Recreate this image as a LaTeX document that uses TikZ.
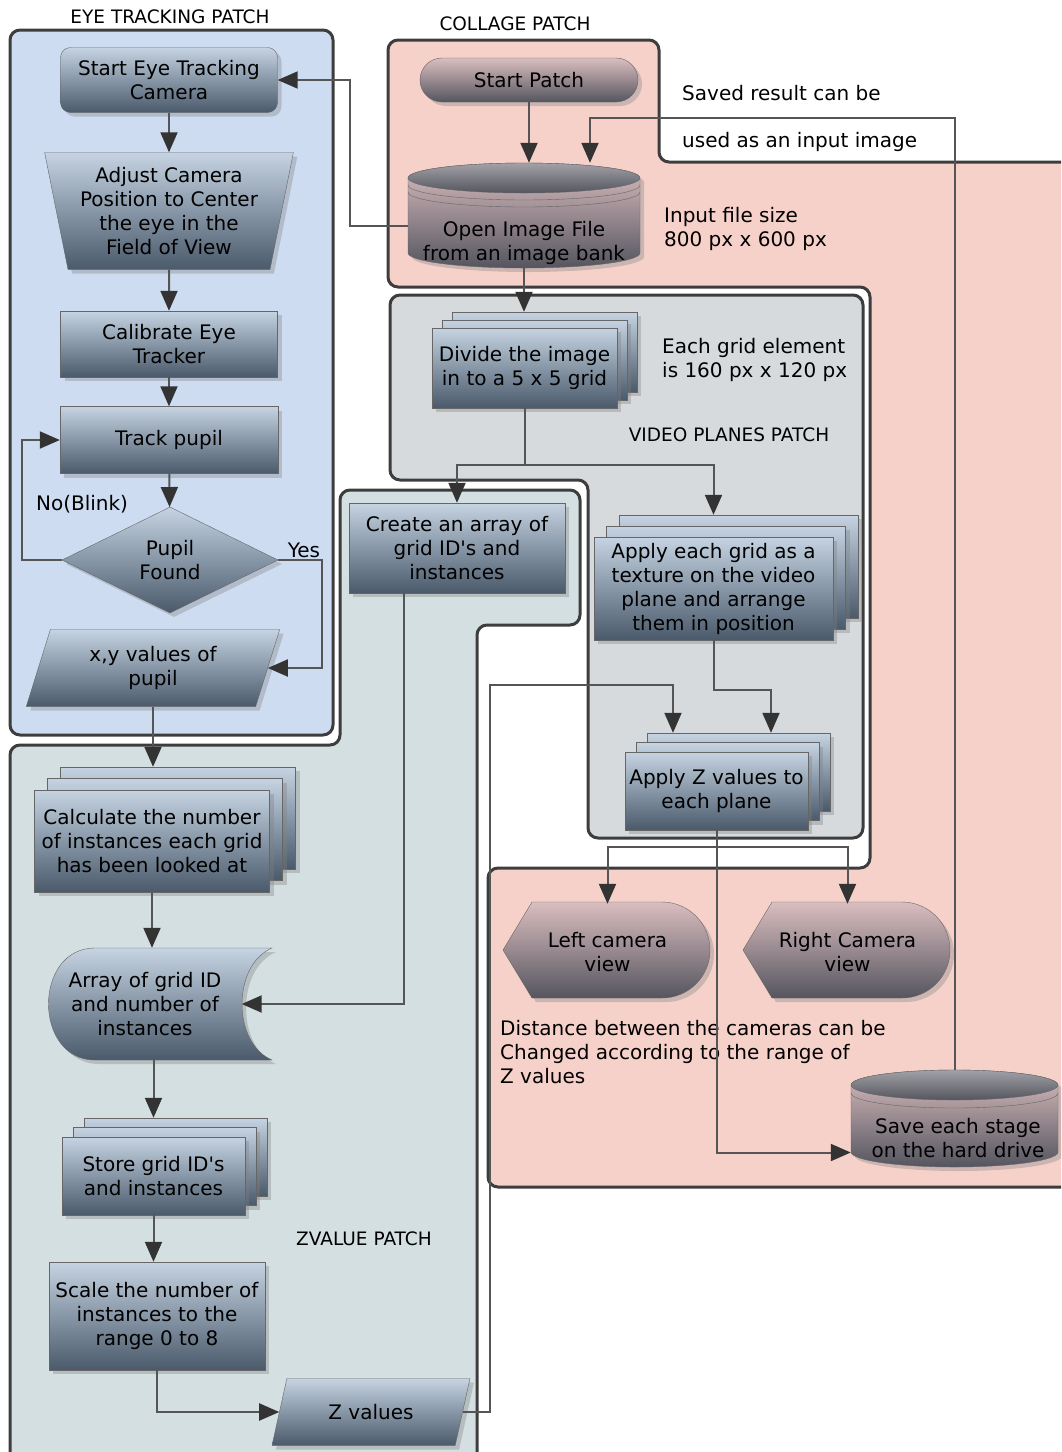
\documentclass[tikz,border=0pt]{standalone}
\usepackage{fontspec}
\setmainfont{DejaVu Sans}
\usetikzlibrary{shapes.geometric,shadows,arrows.meta}

\definecolor{eyefill}{HTML}{CEDCF1}
\definecolor{collfill}{HTML}{F6D1CA}
\definecolor{vidfill}{HTML}{D6DADD}
\definecolor{zfill}{HTML}{D3DFE1}
\definecolor{patchline}{HTML}{3D3D3D}
\definecolor{conline}{HTML}{555555}
\definecolor{tipcol}{HTML}{333333}
\definecolor{nodetop}{HTML}{C5D3E2}
\definecolor{nodebot}{HTML}{4A5A6B}
\definecolor{pinktop}{HTML}{DABEBF}
\definecolor{pinkbot}{HTML}{55555F}

\newcommand{\boxfont}{\fontsize{20pt}{24pt}\selectfont}
\newcommand{\patchfont}{\fontsize{18.5pt}{21pt}\selectfont}

\tikzset{
  every picture/.append style={x=1pt, y=-1pt},
  shade box/.style={draw=black!60,
    drop shadow={shadow xshift=4pt, shadow yshift=-4pt, opacity=.35}},
  box/.style={shade box, top color=nodetop, bottom color=nodebot,
    align=center, font=\boxfont, inner sep=2pt},
  pinkbox/.style={box, top color=pinktop, bottom color=pinkbot},
  hold/.style={inner sep=0pt, align=center, font=\boxfont},
  patch/.style={draw=patchline, line width=3pt, rounded corners=10pt},
  con/.style={draw=conline, line width=2pt},
  arr/.style={con, -{Triangle[length=20pt, width=17pt, color=tipcol]}},
  note/.style={font=\boxfont, align=left, inner sep=0pt},
  patch label/.style={font=\patchfont, inner sep=0pt}
}

\begin{document}
\begin{tikzpicture}
  \useasboundingbox (0,0) rectangle (1061,1452);
  \clip (0,0) rectangle (1061,1452);

  % patches
  \draw[patch, fill=eyefill] (10,30) rectangle (333,735);
  \draw[patch, fill=collfill] (388,40) -- (659,40) -- (659,162) -- (1075,162)
    -- (1075,1187) -- (488,1187) -- (488,868) -- (870,868) -- (870,287)
    -- (388,287) -- cycle;
  \draw[patch, fill=vidfill] (390,295) -- (863,295) -- (863,838) -- (588,838)
    -- (588,480) -- (390,480) -- cycle;
  \draw[patch, fill=zfill] (10,1470) -- (10,745) -- (340,745) -- (340,490)
    -- (580,490) -- (580,625) -- (477,625) -- (477,1470) -- cycle;

  \node[patch label] (lbl-eye) at (170,17) {EYE TRACKING PATCH};
  \node[patch label] (lbl-coll) at (515,24) {COLLAGE PATCH};
  \node[patch label] (lbl-vid) at (729,435) {VIDEO PLANES PATCH};
  \node[patch label] (lbl-z) at (364,1239) {ZVALUE PATCH};

  % eye tracking
  \node[box, rounded corners=10pt, minimum width=217pt, minimum height=65pt] (starteye) at (169,80) {Start Eye Tracking\\Camera};
  \node[box, trapezium, shape border rotate=180, trapezium left angle=77, trapezium right angle=77,
    trapezium stretches=true, minimum width=249pt, minimum height=117pt] (adjust) at (169,211) {Adjust Camera\\Position to Center\\the eye in the\\Field of View};
  \node[box, minimum width=217pt, minimum height=66pt] (calib) at (169,344) {Calibrate Eye\\Tracker};
  \node[box, minimum width=218pt, minimum height=67pt] (track) at (169,440) {Track pupil};
  \node[box, diamond, aspect=2, inner sep=0pt, minimum width=216pt, minimum height=106pt] (pupil) at (170,560) {Pupil\\Found};
  \node[box, trapezium, trapezium left angle=72, trapezium right angle=108, trapezium stretches=true,
    minimum width=254pt, minimum height=77pt] (xy) at (153,668) {x,y values of\\pupil};
  \node[note] (lbl-no) at (82,504) {No(Blink)};
  \node[note] (lbl-yes) at (304,550) {Yes};

  % zvalue
  \node[box, minimum width=235pt, minimum height=102pt] (calc-2) at (178,818) {};
  \node[box, minimum width=235pt, minimum height=102pt] (calc-1) at (165,829.5) {};
  \node[box, minimum width=235pt, minimum height=102pt] (calc) at (152,841) {Calculate the number\\of instances each grid\\has been looked at};
  \path[box] (95,948) -- (272,948) .. controls (232,965) and (232,1043) .. (272,1060)
    -- (95,1060) .. controls (33,1060) and (33,948) .. (95,948) -- cycle;
  \node[hold, minimum width=193pt, minimum height=112pt] (array) at (145,1004) {Array of grid ID\\and number of\\instances};
  \node[box, minimum width=183pt, minimum height=78pt] (store-2) at (175.5,1157) {};
  \node[box, minimum width=183pt, minimum height=78pt] (store-1) at (164.5,1166.5) {};
  \node[box, minimum width=183pt, minimum height=78pt] (store) at (153.5,1176) {Store grid ID\textquotesingle s\\and instances};
  \node[box, minimum width=216pt, minimum height=108pt] (scale) at (157,1316) {Scale the number of\\instances to the\\range 0 to 8};
  \node[box, trapezium, trapezium left angle=68, trapezium right angle=112, trapezium stretches=true,
    minimum width=198pt, minimum height=67pt] (zval) at (371,1412) {Z values};
  \node[box, minimum width=216pt, minimum height=90pt] (create) at (457,548) {Create an array of\\grid ID\textquotesingle s and\\instances};

  % video planes
  \node[box, minimum width=185pt, minimum height=80pt] (divide-2) at (544.5,352) {};
  \node[box, minimum width=185pt, minimum height=80pt] (divide-1) at (534.5,360) {};
  \node[box, minimum width=185pt, minimum height=80pt] (divide) at (524.5,368) {Divide the image\\in to a 5 x 5 grid};
  \node[note, anchor=west] (lbl-grid) at (662,360) {Each grid element\\is 160 px x 120 px};
  \node[box, minimum width=239pt, minimum height=103pt] (applygrid-2) at (738.5,566.5) {};
  \node[box, minimum width=239pt, minimum height=103pt] (applygrid-1) at (726,577.5) {};
  \node[box, minimum width=239pt, minimum height=103pt] (applygrid) at (713.5,588.5) {Apply each grid as a\\texture on the video\\plane and arrange\\them in position};
  \node[box, minimum width=183pt, minimum height=78pt] (applyz-2) at (738.5,772) {};
  \node[box, minimum width=183pt, minimum height=78pt] (applyz-1) at (727.5,781.5) {};
  \node[box, minimum width=183pt, minimum height=78pt] (applyz) at (716.5,791) {Apply Z values to\\each plane};

  % collage
  \node[pinkbox, rounded corners=22pt, minimum width=218pt, minimum height=44pt] (startpatch) at (529,80) {Start Patch};
  \path[pinkbox] (408,178) -- (408,253) arc[start angle=180, end angle=360, x radius=116pt, y radius=15pt]
    -- (640,178) arc[start angle=0, end angle=180, x radius=116pt, y radius=15pt] -- cycle;
  \path[draw=black!60, top color=pinkbot!55!white, bottom color=pinkbot] (524,178) ellipse[x radius=116pt, y radius=15pt];
  \draw[black!60] (408,185) arc[start angle=180, end angle=360, x radius=116pt, y radius=15pt];
  \draw[black!60] (408,192) arc[start angle=180, end angle=360, x radius=116pt, y radius=15pt];
  \node[hold, minimum width=232pt, minimum height=105pt] (open) at (524,215.5) {};
  \node[hold] (open-text) at (524,243) {Open Image File\\from an image bank};
  \node[note, anchor=west] (lbl-size) at (664,229) {Input file size\\800 px x 600 px};
  \node[note, anchor=west] (lbl-saved) at (682,93) {Saved result can be};
  \node[note, anchor=west] (lbl-input) at (682,142) {used as an input image};

  \path[pinkbox] (503,950) -- (532,902) -- (662,902) arc[start angle=90, end angle=-90, radius=48pt] -- (532,998) -- cycle;
  \node[hold, minimum width=209pt, minimum height=96pt] (leftcam) at (607.5,952) {Left camera\\view};
  \path[pinkbox] (743,950) -- (772,902) -- (902,902) arc[start angle=90, end angle=-90, radius=48pt] -- (772,998) -- cycle;
  \node[hold, minimum width=209pt, minimum height=96pt] (rightcam) at (847.5,952) {Right Camera\\view};
  \node[note, anchor=north west] (lbl-dist) at (500,1020) {Distance between the cameras can be\\Changed according to the range of\\Z values};

  \path[pinkbox] (851,1085) -- (851,1152) arc[start angle=180, end angle=360, x radius=103.5pt, y radius=15pt]
    -- (1058,1085) arc[start angle=0, end angle=180, x radius=103.5pt, y radius=15pt] -- cycle;
  \path[draw=black!60, top color=pinkbot!55!white, bottom color=pinkbot] (954.5,1085) ellipse[x radius=103.5pt, y radius=15pt];
  \draw[black!60] (851,1093) arc[start angle=180, end angle=360, x radius=103.5pt, y radius=15pt];
  \node[hold, minimum width=207pt, minimum height=97pt] (save) at (954.5,1118.5) {};
  \node[hold] (save-text) at (958,1138) {Save each stage\\on the hard drive};

  % connectors
  \draw[arr] (starteye) -- (adjust);
  \draw[arr] (adjust) -- (calib);
  \draw[arr] (calib) -- (track);
  \draw[arr] (track) -- (pupil);
  \draw[arr] (pupil.west) -- ++(-40,0) |- (track.west);
  \draw[arr] (pupil.east) -- ++(44,0) |- (xy.east);
  \draw[arr] (xy.south) -- (xy.south |- calc-2.north);
  \draw[arr] (calc.south) -- (calc.south |- array.north);
  \draw[arr] (store.north |- array.south) -- (store.north |- store-2.north);
  \draw[arr] (store.south) -- (store.south |- scale.north);
  \draw[arr] (scale.south) |- (zval.west);
  \coordinate (zturn) at (490,685);
  \draw[arr] (zval.east) -| (zturn) -| (applyz-2.north -| 673,0);
  \draw[arr] (create.south -| 404,0) |- (array.east);

  \draw[arr] ([yshift=-10pt]open.west) -- ++(-58,0) |- (starteye.east);
  \draw[arr] (startpatch) -- (startpatch |- open.north);
  \draw[arr] (open.south) -- (open.south |- divide-2.north);
  \draw[con] (divide.south) -- ++(0,57) coordinate (split);
  \draw[arr] (split) -| (create.north);
  \draw[arr] (split) -| (applygrid-2.north -| applygrid.north);
  \draw[arr] (applygrid.south) -- ++(0,50) -| (applyz-2.north -| 771,0);
  \draw[con] (applyz.south) -- ++(0,17) coordinate (camsplit);
  \draw[arr] (camsplit) -| (leftcam.north);
  \draw[arr] (camsplit) -| (rightcam.north);
  \draw[arr] (applyz.south) |- ([yshift=-34pt]save.west);
  \coordinate (saveturn) at (590,118);
  \draw[arr] (save.north) |- (saveturn) -- (saveturn |- open.north);
\end{tikzpicture}
\end{document}
